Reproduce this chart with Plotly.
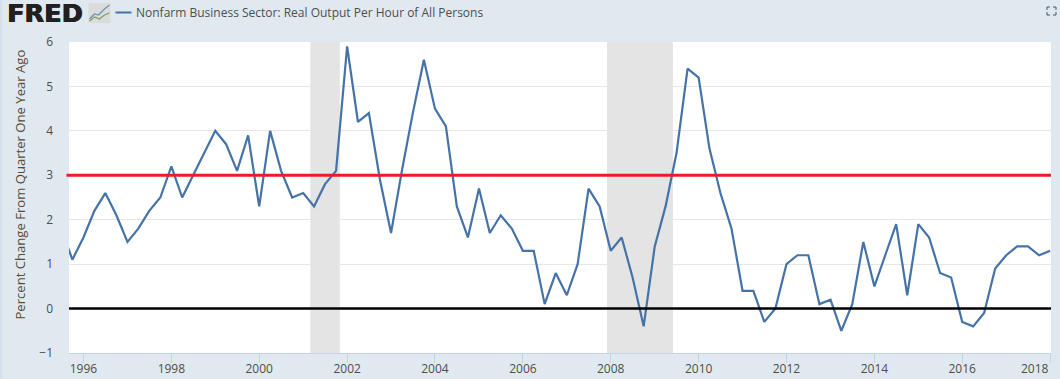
import plotly.graph_objects as go

W, H = 1060, 379
L, R, T, B = 68.5, 1051, 42, 353

dates = [f"{y}-{m:02d}-01" for y in range(1995, 2019) for m in (1, 4, 7, 10)
         if "1995-07" <= f"{y}-{m:02d}" <= "2018-01"]
values = [1.8, 1.1,
          1.6, 2.2, 2.6, 2.1,
          1.5, 1.8, 2.2, 2.5,
          3.2, 2.5, 3.0, 3.5,
          4.0, 3.7, 3.1, 3.9,
          2.3, 4.0, 3.1, 2.5,
          2.6, 2.3, 2.8, 3.1,
          5.9, 4.2, 4.4, 2.9,
          1.7, 3.1, 4.4, 5.6,
          4.5, 4.1, 2.3, 1.6,
          2.7, 1.7, 2.1, 1.8,
          1.3, 1.3, 0.1, 0.8,
          0.3, 1.0, 2.7, 2.3,
          1.3, 1.6, 0.7, -0.4,
          1.4, 2.3, 3.5, 5.4,
          5.2, 3.6, 2.6, 1.8,
          0.4, 0.4, -0.3, 0.0,
          1.0, 1.2, 1.2, 0.1,
          0.2, -0.5, 0.1, 1.5,
          0.5, 1.2, 1.9, 0.3,
          1.9, 1.6, 0.8, 0.7,
          -0.3, -0.4, -0.1, 0.9,
          1.2, 1.4, 1.4, 1.2,
          1.3]
recessions = [("2001-03-01", "2001-11-01"), ("2007-12-01", "2009-06-01")]
x_range = ["1995-09-03", "2018-01-08"]
y_ticks = [-1, 0, 1, 2, 3, 4, 5, 6]
x_ticks = [f"{y}-01-01" for y in range(1996, 2019, 2)]
x_labels = [str(y) for y in range(1996, 2018, 2)] + [""]
last_label = "2018"
reference_lines = [(3, "#ed1c24", 3, 66, 1052), (0, "#000000", 2.5, L, R)]

title = "Nonfarm Business Sector: Real Output Per Hour of All Persons"
y_title = "Percent Change From Quarter One Year Ago"
FONT = "Open Sans"
TXT = "#4d4d4d"


def px(x):
    return (x - L) / (R - L)


def py(y):
    return (B - y) / (B - T)


fig = go.Figure(go.Scatter(x=dates, y=values, mode="lines",
                           line=dict(color="#4572a7", width=2.2), hoverinfo="skip",
                           showlegend=False))

shapes = []
for a, b in recessions:
    shapes.append(dict(type="rect", xref="x", yref="paper", x0=a, x1=b,
                       y0=0, y1=1, fillcolor="#e4e4e4", line_width=0, layer="below"))
for v, c, w, xa, xb in reference_lines:
    shapes.append(dict(type="line", xref="paper", yref="y", x0=px(xa), x1=px(xb), y0=v, y1=v,
                       line=dict(color=c, width=w), layer="above"))

deco = []
deco.append(dict(type="rect", x0=px(0), x1=px(1), y0=py(379), y1=py(0),
                 fillcolor="#c9d8e8", line_width=0))
deco.append(dict(type="rect", x0=px(1051), x1=px(1060), y0=py(379), y1=py(42),
                 fillcolor="#dfe7ef", line_width=0))
deco.append(dict(type="line", x0=px(115), x1=px(131), y0=py(12.5), y1=py(12.5),
                 line=dict(color="#4572a7", width=2)))
deco.append(dict(type="rect", x0=px(88), x1=px(110), y0=py(23), y1=py(3),
                 fillcolor="#d9dcdb", line_width=0))
deco.append(dict(type="path", path=f"M {px(89)} {py(19)} L {px(94)} {py(14)} L {px(98)} {py(15)} "
                 f"L {px(104)} {py(9)} L {px(109)} {py(5)}",
                 line=dict(color="#6f93b5", width=1.2)))
deco.append(dict(type="path", path=f"M {px(89)} {py(21)} L {px(94)} {py(17)} L {px(99)} {py(19)} "
                 f"L {px(104)} {py(15)} L {px(109)} {py(13)}",
                 line=dict(color="#7f9f5c", width=1.2)))
for xa, ya, dx, dy in [(1047, 7, 1, 1), (1056, 7, -1, 1), (1047, 15, 1, -1), (1056, 15, -1, -1)]:
    deco.append(dict(type="path",
                     path=f"M {px(xa + 3 * dx)} {py(ya)} L {px(xa)} {py(ya)} L {px(xa)} {py(ya + 3 * dy)}",
                     line=dict(color="#3b5a75", width=1)))
for d in deco:
    d.update(xref="paper", yref="paper", layer="above")
shapes += deco

annotations = [
    dict(text="<b>FRED</b>", x=px(5.5), y=py(13), xanchor="left", yanchor="middle",
         xref="paper", font=dict(family="DejaVu Sans", size=25.5, color="#231f20",
                                 shadow="0.7px 0 0 #231f20, -0.3px 0 0 #231f20")),
    dict(text=title, x=px(135), y=py(12.5), xanchor="left", yanchor="middle",
         xref="paper", font=dict(family=FONT, size=12, color=TXT)),
    dict(text=y_title, x=px(19), y=py(185), xanchor="center", yanchor="middle", textangle=-90,
         xref="paper", font=dict(family=FONT, size=13.1, color="#5b4a33")),
    dict(text=last_label, x=x_ticks[-1], y=py(368), xanchor="right", yanchor="middle",
         xref="x", font=dict(family=FONT, size=12, color=TXT)),
]
for a in annotations:
    a.update(yref="paper", showarrow=False, xshift=0, yshift=0, borderpad=0)

fig.update_layout(
    width=W, height=H, autosize=False,
    margin=dict(l=L, r=W - R, t=T, b=H - B, pad=0),
    paper_bgcolor="#e1e9f0", plot_bgcolor="#ffffff",
    shapes=shapes, annotations=annotations, showlegend=False,
    xaxis=dict(range=x_range, type="date", tickvals=x_ticks, ticktext=x_labels, tickangle=0,
               automargin=False, ticklabelstandoff=-4,
               showgrid=False, zeroline=False, showline=True, linecolor="#c5d3e6", linewidth=1,
               ticks="outside", ticklen=9, tickwidth=1, tickcolor="#c5d3e6",
               tickfont=dict(family=FONT, size=12, color=TXT)),
    yaxis=dict(range=[-1, 6], tickvals=y_ticks, showgrid=True, gridcolor="#e6e6e6", gridwidth=1,
               automargin=False,
               zeroline=False, showline=False, ticks="", ticklabelstandoff=15,
               tickfont=dict(family=FONT, size=12, color=TXT)),
)
fig.write_html("out.html", config=dict(displayModeBar=False),
               post_script="document.body.style.margin='0';document.body.style.overflow='hidden';")
